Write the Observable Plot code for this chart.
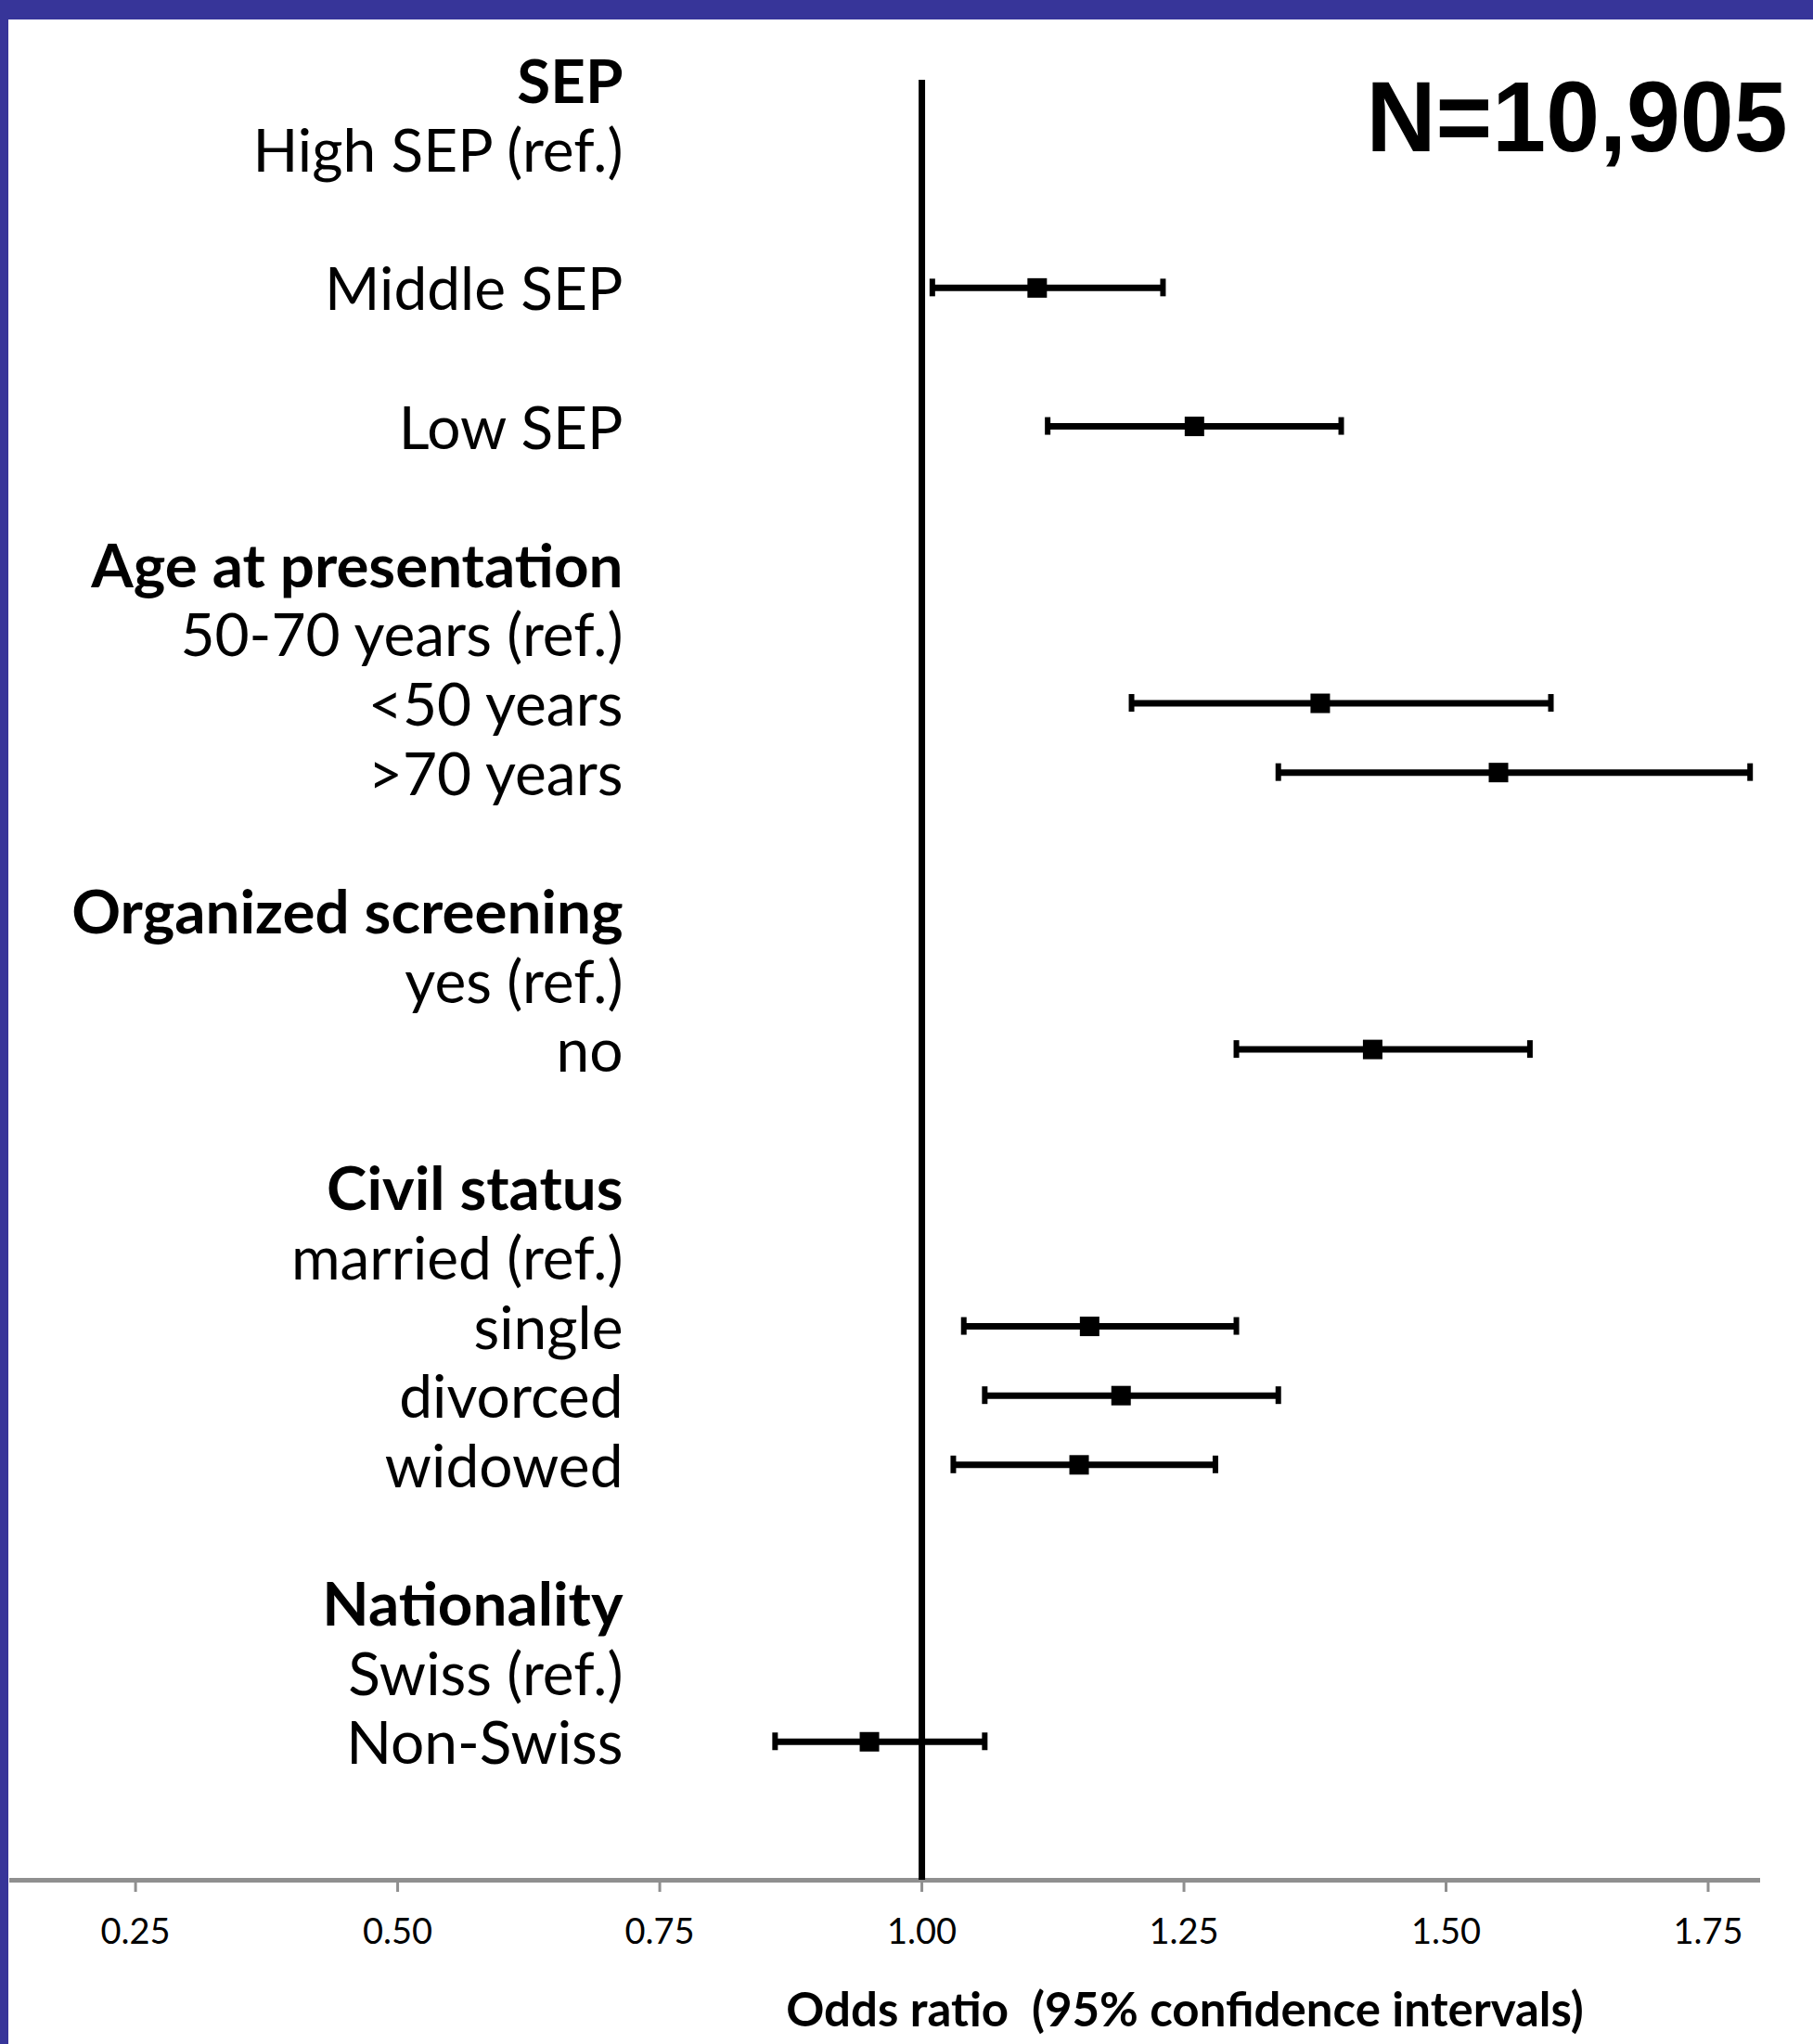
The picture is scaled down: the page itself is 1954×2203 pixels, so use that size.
<!DOCTYPE html>
<html>
<head>
<meta charset="utf-8">
<script src="https://cdn.jsdelivr.net/npm/d3@7"></script>
<script src="https://cdn.jsdelivr.net/npm/@observablehq/plot@0.6"></script>
<style>
  html, body { margin: 0; padding: 0; background: #fff; }
  #frame {
    position: relative; width: 1954px; height: 2203px; box-sizing: border-box;
    border-top: 21px solid #373599; border-left: 9px solid #373599;
    background: #fff; overflow: hidden;
  }
  #chart svg { display: block; }
</style>
</head>
<body>
<div id="frame"><div id="chart"></div></div>
<script>
// ---- data ----
const rowOrder = [
  "SEP", "High SEP (ref.)", "", "Middle SEP", "", "Low SEP", "",
  "Age at presentation", "50-70 years (ref.)", "<50 years", ">70 years", "",
  "Organized screening", "yes (ref.)", "no", "",
  "Civil status", "married (ref.)", "single", "divorced", "widowed", "",
  "Nationality", "Swiss (ref.)", "Non-Swiss", "", ""
];
const headers = ["SEP", "Age at presentation", "Organized screening", "Civil status", "Nationality"];
const categories = ["Middle SEP", "Low SEP", "<50 years", ">70 years", "no", "single", "divorced", "widowed", "Non-Swiss"];
const oddsRatio = [1.11, 1.26, 1.38, 1.55, 1.43, 1.16, 1.19, 1.15, 0.95];
const ciLower   = [1.01, 1.12, 1.20, 1.34, 1.30, 1.04, 1.06, 1.03, 0.86];
const ciUpper   = [1.23, 1.40, 1.60, 1.79, 1.58, 1.30, 1.34, 1.28, 1.06];
const xTicks = [0.25, 0.50, 0.75, 1.00, 1.25, 1.50, 1.75];
const sampleLabel = "N=10,905";
const axisTitle = "Odds ratio  (95% confidence intervals)";

// ---- derived tables ----
const lastRow = rowOrder.length - 1;
const labelRows = rowOrder
  .map((label, i) => ({label, row: i, header: headers.includes(label)}))
  .filter(d => d.label !== "");
const estimates = categories.map((c, i) => ({
  category: c, row: rowOrder.indexOf(c), or: oddsRatio[i], lo: ciLower[i], hi: ciUpper[i]
}));

const labelFont = "Lato, 'Open Sans', sans-serif";
const labelStyle = {
  frameAnchor: "left", y: "row", text: "label", textAnchor: "end",
  lineAnchor: "bottom", dx: 661, dy: 24, fill: "black", fontFamily: labelFont
};

const chart = Plot.plot({
  width: 1945,
  height: 2182,
  marginLeft: 1,
  marginRight: 57,
  marginTop: 65,
  marginBottom: 177,
  x: {domain: [0.13, 1.8]},
  y: {domain: [0, lastRow], reverse: true, axis: null},
  style: {fontFamily: labelFont, background: "white", color: "black", overflow: "visible"},
  marks: [
    // x axis
    Plot.axisX({
      ticks: xTicks, tickFormat: d3.format(".2f"), tickSize: 13, tickPadding: 29,
      fontSize: 38, stroke: "#8f8f8f", strokeWidth: 3, strokeOpacity: 1, fill: "black", label: null
    }),
    Plot.ruleY([lastRow], {stroke: "#8f8f8f", strokeWidth: 5}),
    // reference line at OR = 1
    Plot.ruleX([1], {y1: 0, y2: lastRow, stroke: "black", strokeWidth: 7}),
    // confidence intervals
    Plot.ruleY(estimates, {y: "row", x1: "lo", x2: "hi", stroke: "black", strokeWidth: 7}),
    Plot.ruleX(estimates, {x: "lo", y1: "row", y2: "row", insetTop: -9.5, insetBottom: -9.5, stroke: "black", strokeWidth: 6}),
    Plot.ruleX(estimates, {x: "hi", y1: "row", y2: "row", insetTop: -9.5, insetBottom: -9.5, stroke: "black", strokeWidth: 6}),
    Plot.dot(estimates, {x: "or", y: "row", symbol: "square", r: 11.85, fill: "black", stroke: "none"}),
    // row labels
    Plot.text(labelRows.filter(d => d.header), {...labelStyle, fontSize: 65.5, fontWeight: "bold"}),
    Plot.text(labelRows.filter(d => !d.header), {...labelStyle, fontSize: 64, fontWeight: "normal"}),
    // sample size
    Plot.text([sampleLabel], {
      frameAnchor: "top-right", textAnchor: "end", lineAnchor: "bottom", dx: 29, dy: 76,
      fontSize: 107, fontWeight: "bold", fill: "black",
      fontFamily: "'Liberation Sans', Arial, sans-serif", className: "sample-n"
    }),
    // axis title
    Plot.text([axisTitle], {
      frameAnchor: "bottom", textAnchor: "middle", lineAnchor: "bottom", dx: 323, dy: 157,
      fontSize: 51, fontWeight: "bold", fill: "black", fontFamily: labelFont
    })
  ]
});

document.getElementById("chart").appendChild(chart);
d3.select(chart).selectAll(".sample-n text")
  .attr("textLength", 454).attr("lengthAdjust", "spacingAndGlyphs");
</script>
</body>
</html>
